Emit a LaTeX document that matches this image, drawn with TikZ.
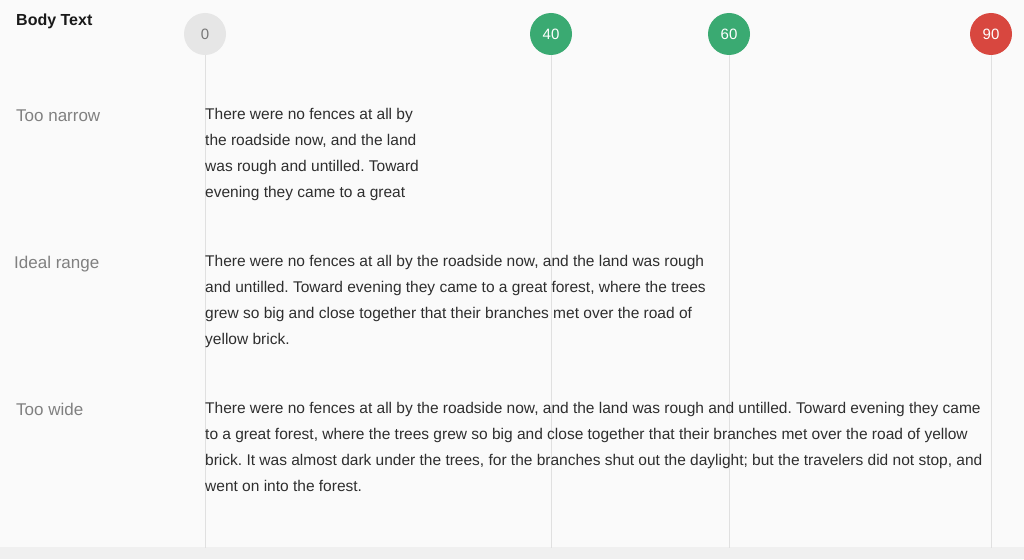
\documentclass[tikz,border=0pt]{standalone}
\usepackage{fontspec}
\setmainfont{Liberation Sans}
\frenchspacing
\definecolor{bgc}{HTML}{FAFAFA}
\definecolor{bandc}{HTML}{F0F0F0}
\definecolor{vlinec}{HTML}{E0E0E0}
\definecolor{greyfill}{HTML}{E6E6E6}
\definecolor{greytext}{HTML}{777777}
\definecolor{greenfill}{HTML}{3AAA72}
\definecolor{redfill}{HTML}{D8473F}
\definecolor{labelc}{HTML}{808080}
\definecolor{bodyc}{HTML}{2E2E2E}
\begin{document}
\begin{tikzpicture}[x=1pt,y=-1pt,
  circbase/.style={circle,minimum size=42pt,inner sep=0pt,font=\fontsize{15}{15}\selectfont},
  greycirc/.style={circbase,fill=greyfill,text=greytext},
  greencirc/.style={circbase,fill=greenfill,text=white},
  redcirc/.style={circbase,fill=redfill,text=white},
  vline/.style={draw=vlinec,line width=1pt},
  bodyline/.style={anchor=base west,inner sep=0pt,text=bodyc,font=\fontsize{15.5}{15.5}\selectfont},
  rowlabel/.style={anchor=base west,inner sep=0pt,text=labelc,font=\fontsize{17}{17}\selectfont},
  titlelabel/.style={anchor=base west,inner sep=0pt,text=black!90,font=\fontsize{16}{16}\selectfont\bfseries}]
\fill[bgc] (0,0) rectangle (1024,559);
\fill[bandc] (0,547) rectangle (1024,559);
\useasboundingbox (0,0) rectangle (1024,559);
% markers
\node[greycirc] (c0) at (205,34) {0};
\node[greencirc] (c40) at (551,34) {40};
\node[greencirc] (c60) at (729,34) {60};
\node[redcirc] (c90) at (991,34) {90};
\coordinate (e0) at (205,548);
\coordinate (e40) at (551,548);
\coordinate (e60) at (729,548);
\coordinate (e90) at (991,548);
\draw[vline] (c0.south) -- (e0);
\draw[vline] (c40.south) -- (e40);
\draw[vline] (c60.south) -- (e60);
\draw[vline] (c90.south) -- (e90);
% labels
\node[titlelabel] (title) at (16,26) {Body Text};
\node[rowlabel] (lnarrow) at (16,121.5) {Too narrow};
\node[rowlabel] (lideal) at (14,268.5) {Ideal range};
\node[rowlabel] (lwide) at (16,415.5) {Too wide};
% too narrow
\node[bodyline] (a1) at (205,119) {There were no fences at all by};
\node[bodyline] (a2) at (205,145.3) {the roadside now, and the land};
\node[bodyline] (a3) at (205,171.6) {was rough and untilled. Toward};
\node[bodyline] (a4) at (205,197.9) {evening they came to a great};
% ideal
\node[bodyline] (b1) at (205,266) {There were no fences at all by the roadside now, and the land was rough};
\node[bodyline] (b2) at (205,292.3) {and untilled. Toward evening they came to a great forest, where the trees};
\node[bodyline] (b3) at (205,318.6) {grew so big and close together that their branches met over the road of};
\node[bodyline] (b4) at (205,344.9) {yellow brick.};
% wide
\node[bodyline] (w1) at (205,413) {There were no fences at all by the roadside now, and the land was rough and untilled. Toward evening they came};
\node[bodyline] (w2) at (205,439.3) {to a great forest, where the trees grew so big and close together that their branches met over the road of yellow};
\node[bodyline] (w3) at (205,465.6) {brick. It was almost dark under the trees, for the branches shut out the daylight; but the travelers did not stop, and};
\node[bodyline] (w4) at (205,491.9) {went on into the forest.};
\end{tikzpicture}
\end{document}
